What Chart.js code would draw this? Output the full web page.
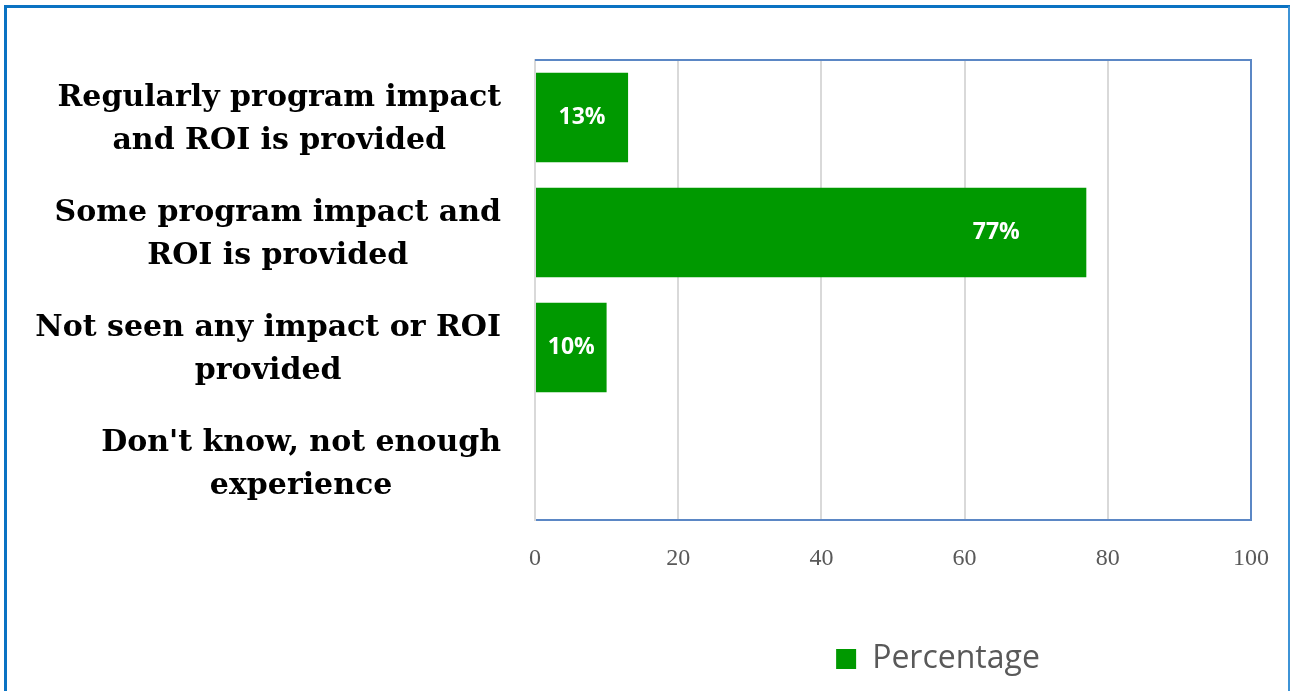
<!DOCTYPE html>
<html>
<head>
<meta charset="utf-8">
<script src="https://cdn.jsdelivr.net/npm/chart.js@4/dist/chart.umd.min.js"></script>
<style>
  html, body { margin: 0; padding: 0; background: #ffffff; }
  #wrap { width: 1293px; height: 691px; }
</style>
</head>
<body>
<div id="wrap"><canvas id="c" width="1293" height="691"></canvas></div>
<script>
// Survey answers and their shares (percent)
const categories = [
  ['Regularly program impact', 'and ROI is provided'],
  ['Some program impact and', 'ROI is provided'],
  ['Not seen any impact or ROI', 'provided'],
  ["Don't know, not enough", 'experience']
];
const percentages = [13, 77, 10, 0];
const seriesName = 'Percentage';
const xTicks = [0, 20, 40, 60, 80, 100];

const GREEN = '#009900';
const FRAME_BLUE = '#0a72c2';
const PLOT_BLUE = '#5b87c5';
const GRID = '#d9d9d9';

// Outer frame of the figure
const framePlugin = {
  id: 'frame',
  beforeDraw(chart) {
    const ctx = chart.ctx;
    ctx.save();
    ctx.fillStyle = '#ffffff';
    ctx.fillRect(0, 0, chart.width, chart.height);
    ctx.strokeStyle = FRAME_BLUE;
    ctx.lineWidth = 3;
    ctx.beginPath();
    ctx.moveTo(5.5, chart.height);
    ctx.lineTo(5.5, 6.5);
    ctx.lineTo(1290, 6.5);
    ctx.stroke();
    ctx.strokeStyle = '#3d93d6';
    ctx.lineWidth = 2;
    ctx.beginPath();
    ctx.moveTo(1289, 6.5);
    ctx.lineTo(1289, chart.height);
    ctx.stroke();
    ctx.restore();
  }
};

// Legend sits to the right, under the plot
const legendShiftPlugin = {
  id: 'legendShift',
  afterLayout(chart) {
    const lg = chart.legend;
    if (!lg) return;
    lg.left = 583;
    lg.right = chart.width;
    lg.width = lg.right - lg.left;
  }
};

// Top and right edges of the plot area
const plotBoxPlugin = {
  id: 'plotBox',
  afterDatasetsDraw(chart) {
    const { ctx, chartArea: a } = chart;
    ctx.save();
    ctx.strokeStyle = PLOT_BLUE;
    ctx.lineWidth = 2;
    ctx.beginPath();
    ctx.moveTo(a.left, a.top);
    ctx.lineTo(a.right, a.top);
    ctx.lineTo(a.right, a.bottom);
    ctx.stroke();
    ctx.restore();
  }
};

// Category labels: block right-aligned to the axis, lines centred within the block
const categoryLabelPlugin = {
  id: 'categoryLabels',
  afterDraw(chart) {
    const { ctx } = chart;
    const y = chart.scales.y;
    const rightEdge = chart.chartArea.left - 34;
    const lineH = 43;
    ctx.save();
    ctx.font = 'bold 30px "DejaVu Serif", serif';
    ctx.fillStyle = '#000000';
    ctx.textAlign = 'center';
    ctx.textBaseline = 'middle';
    categories.forEach((lines, i) => {
      const cy = y.getPixelForValue(i) + 2;
      const maxW = Math.max(...lines.map(l => ctx.measureText(l).width));
      const cx = rightEdge - maxW / 2;
      lines.forEach((line, k) => {
        ctx.fillText(line, cx, cy + (k - (lines.length - 1) / 2) * lineH);
      });
    });
    ctx.restore();
  }
};

// Value labels inside the bars
const valueLabelPlugin = {
  id: 'valueLabels',
  afterDatasetsDraw(chart) {
    const { ctx } = chart;
    const meta = chart.getDatasetMeta(0);
    ctx.save();
    ctx.font = 'bold 23px "Open Sans", sans-serif';
    ctx.fillStyle = '#ffffff';
    ctx.textAlign = 'center';
    ctx.textBaseline = 'middle';
    meta.data.forEach((bar, i) => {
      const v = percentages[i];
      if (!v) return;
      const center = (bar.base + bar.x) / 2;
      const x = Math.max(center, bar.x - 90);
      ctx.fillText(v + '%', x, bar.y);
    });
    ctx.restore();
  }
};

new Chart(document.getElementById('c'), {
  type: 'bar',
  data: {
    labels: categories,
    datasets: [{
      label: seriesName,
      data: percentages,
      backgroundColor: GREEN,
      borderWidth: 0,
      barPercentage: 0.78,
      categoryPercentage: 1.0
    }]
  },
  options: {
    indexAxis: 'y',
    responsive: false,
    animation: false,
    layout: { padding: { left: 0, top: 60, right: 40, bottom: 6 } },
    plugins: {
      legend: {
        position: 'bottom',
        labels: {
          boxWidth: 20,
          boxHeight: 20,
          padding: 10,
          color: '#595959',
          font: { family: '"Open Sans", sans-serif', size: 32 }
        }
      },
      tooltip: { enabled: false }
    },
    scales: {
      x: {
        min: 0,
        max: 100,
        afterBuildTicks(scale) {
          scale.ticks = xTicks.map(v => ({ value: v }));
        },
        afterFit(scale) { scale.height = 113; },
        grid: { color: GRID, lineWidth: 2, drawTicks: false },
        border: { color: PLOT_BLUE, width: 2 },
        ticks: {
          padding: 24,
          color: '#595959',
          font: { family: '"Liberation Serif", serif', size: 24 }
        }
      },
      y: {
        afterFit(scale) { scale.width = 535; },
        grid: { display: false, drawTicks: false },
        border: { color: GRID, width: 2 },
        ticks: { display: false }
      }
    }
  },
  plugins: [framePlugin, legendShiftPlugin, plotBoxPlugin, valueLabelPlugin, categoryLabelPlugin]
});
</script>
</body>
</html>
